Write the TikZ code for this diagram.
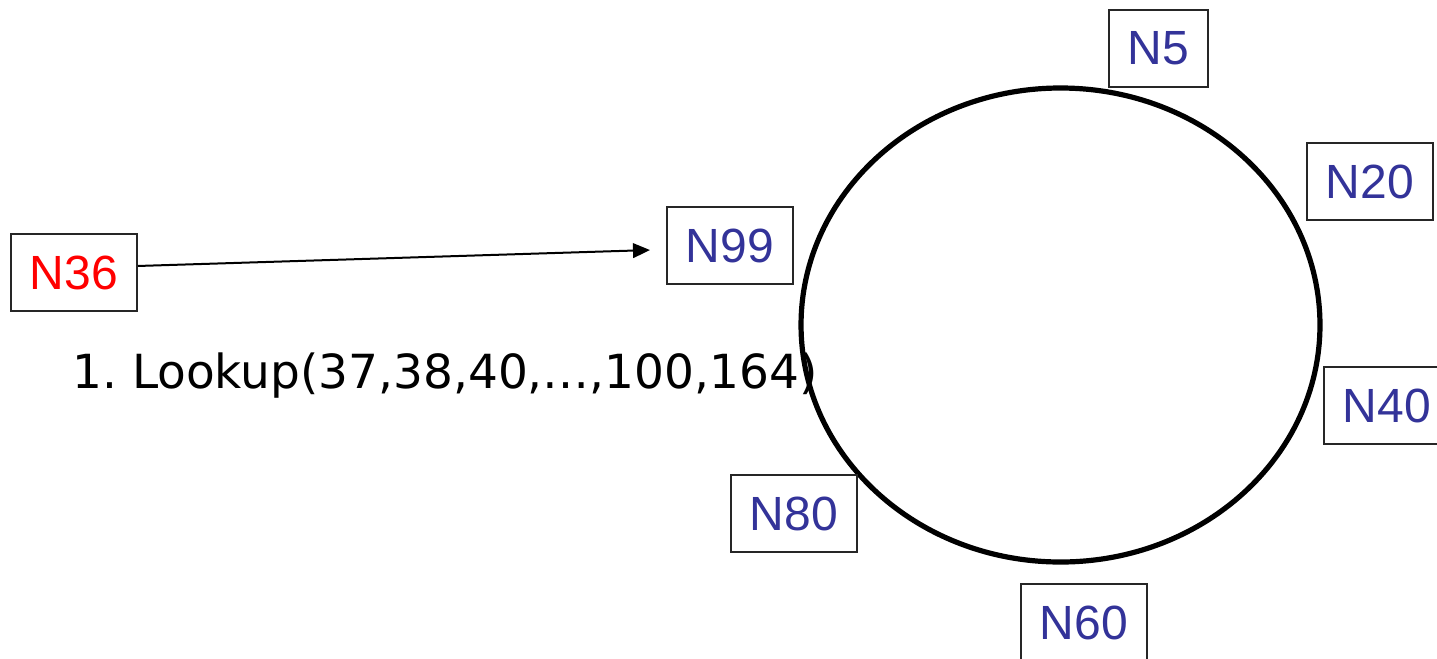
\documentclass[tikz,border=0pt]{standalone}
\usepackage{fontspec}
\setmainfont{Liberation Sans}
\newfontfamily\lookupfont{DejaVu Sans}
\usetikzlibrary{arrows.meta}
\definecolor{nodeblue}{HTML}{333399}
\tikzset{
  peer/.style={draw=black!85, line width=1.5pt, fill=white, minimum width=94.5pt,
    minimum height=57.75pt, inner sep=0pt, text=nodeblue, font=\fontsize{36}{40}\selectfont},
  origin/.style={peer, text=red},
  ring/.style={line width=3.9pt},
  msg/.style={line width=1.5pt, -{Triangle[length=12.75pt,width=11pt]}}
}
\begin{document}
\frenchspacing
\begin{tikzpicture}[x=0.75pt,y=-0.75pt]
\useasboundingbox (0,0) rectangle (1437,658);
% the identifier ring
\draw[ring] (1060.5,325) ellipse [x radius=194.6pt, y radius=177.75pt];
% peers around the ring
\node[peer, minimum width=74.25pt] (n5) at (1158.5,48.5) {\raisebox{-1.2pt}{N5}};
\node[peer] (n20) at (1370,181.5) {\raisebox{-1.2pt}{N20}};
\node[peer] (n40) at (1387,405.5) {\raisebox{-1.2pt}{N40}};
\node[peer] (n60) at (1084,622.5) {\raisebox{-1.2pt}{N60}};
\node[peer] (n80) at (794,513.5) {\raisebox{-1.2pt}{N80}};
\node[peer] (n99) at (730,245.5) {\raisebox{-1.2pt}{N99}};
% querying peer
\node[origin] (n36) at (74,272.5) {\raisebox{-1.2pt}{N36}};
% lookup request
\draw[msg] ([yshift=4.9pt]n36.east) -- ([xshift=-12pt,yshift=-3.4pt]n99.west);
\node[anchor=base west, inner sep=0pt, font=\lookupfont\fontsize{35.25}{40}\selectfont] (req) at (72,388) {1. Lookup(37,38,40,…,100,164)};
\end{tikzpicture}
\end{document}
